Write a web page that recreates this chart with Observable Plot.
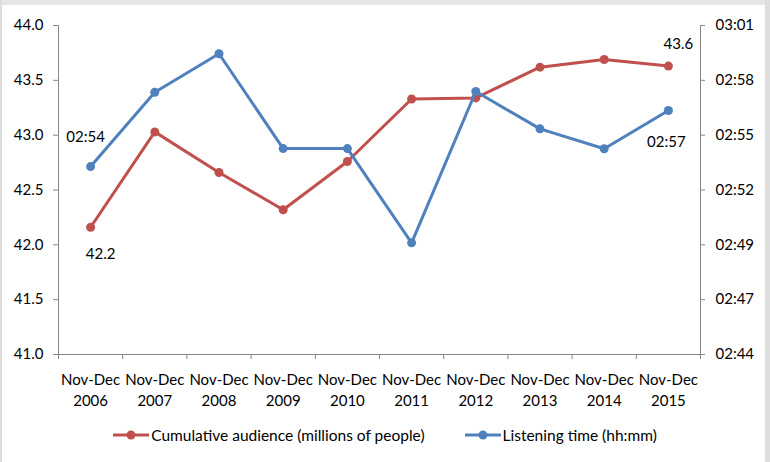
<!DOCTYPE html>
<html>
<head>
<meta charset="utf-8">
<script src="https://cdn.jsdelivr.net/npm/d3@7"></script>
<script src="https://cdn.jsdelivr.net/npm/@observablehq/plot@0.6"></script>
<style>
  html, body { margin: 0; padding: 0; background: #fff; }
  body { width: 770px; height: 462px; position: relative; overflow: hidden; font-family: Lato, "Liberation Sans", sans-serif; }
  #chart { position: absolute; left: 0; top: 0; }
  .frame { position: absolute; background: #dedede; }
  #legend { position: absolute; left: 0; top: 425px; width: 770px; height: 20px; display: flex; justify-content: center; align-items: center; font-size: 15.5px; color: #000; }
  #legend .item { display: flex; align-items: center; }
  #legend .item + .item { margin-left: 40px; }
  #legend svg { margin-right: 2px; }
</style>
</head>
<body>
<div id="chart"></div>
<div id="legend"></div>
<div class="frame" style="left:0;top:0;width:770px;height:5px;background:#e6e6e6"></div>
<div class="frame" style="left:0;top:0;width:2px;height:462px"></div>
<div class="frame" style="left:765px;top:0;width:5px;height:462px"></div>
<script>
const categories = ["2006","2007","2008","2009","2010","2011","2012","2013","2014","2015"];
const audience = [42.16, 43.03, 42.66, 42.32, 42.76, 43.33, 43.34, 43.62, 43.69, 43.63];
// listening time in minutes (2h54m = 174)
const listeningMinutes = [173.71, 177.55, 179.54, 174.64, 174.64, 169.77, 177.59, 175.66, 174.63, 176.61];
const leftTicks = [41, 41.5, 42, 42.5, 43, 43.5, 44];
const rightTickLabels = ["02:44","02:47","02:49","02:52","02:55","02:58","03:01"];
const rightMin = 164, rightMax = 181;
const seriesNames = ["Cumulative audience (millions of people)", "Listening time (hh:mm)"];
const colors = ["#C0504D", "#4F81BD"];

const toLeft = m => 41 + (m - rightMin) * 3 / (rightMax - rightMin);
const red = categories.map((c, i) => ({i: i + 0.5, v: audience[i], cat: c}));
const blue = categories.map((c, i) => ({i: i + 0.5, v: toLeft(listeningMinutes[i]), m: listeningMinutes[i], cat: c}));
const rightMap = new Map(leftTicks.map((v, k) => [v, rightTickLabels[k]]));
const fmtTime = m => { const t = Math.round(m); return "0" + Math.floor(t/60) + ":" + String(t % 60).padStart(2, "0"); };

const axisGray = "#868686";
const plot = Plot.plot({
  width: 770,
  height: 415,
  marginLeft: 58,
  marginRight: 70,
  marginTop: 25,
  marginBottom: 61,
  style: {fontFamily: "Lato, 'Liberation Sans', sans-serif", fontSize: "15px", color: "#000", background: "transparent"},
  x: {domain: [0, 10]},
  y: {domain: [41, 44]},
  marks: [
    Plot.axisY({ticks: leftTicks, tickFormat: d => d.toFixed(1), tickSize: 5, tickPadding: 10, stroke: axisGray, fill: "#000", label: null}),
    Plot.axisY({anchor: "right", ticks: leftTicks, tickFormat: d => rightMap.get(d), tickSize: 4, tickPadding: 11, stroke: axisGray, fill: "#000", label: null}),
    Plot.axisX({ticks: d3.range(11), tickFormat: () => "", tickSize: 5, stroke: axisGray, label: null}),
    Plot.ruleY([41], {stroke: axisGray}),
    Plot.ruleX([0, 10], {stroke: axisGray}),
    Plot.text(red, {x: "i", y: 41, text: d => "Nov-Dec\n" + d.cat, dy: 34, lineHeight: 1.4, fill: "#000"}),
    Plot.line(red, {x: "i", y: "v", stroke: colors[0], strokeWidth: 3}),
    Plot.dot(red, {x: "i", y: "v", r: 4.5, fill: colors[0]}),
    Plot.line(blue, {x: "i", y: "v", stroke: colors[1], strokeWidth: 3}),
    Plot.dot(blue, {x: "i", y: "v", r: 4.5, fill: colors[1]}),
    Plot.text([red[0]], {x: "i", y: "v", text: d => d.v.toFixed(1), dx: 10, dy: 27, fill: "#000"}),
    Plot.text([red[9]], {x: "i", y: "v", text: d => d.v.toFixed(1), dx: 10, dy: -22, fill: "#000"}),
    Plot.text([blue[0]], {x: "i", y: "v", text: d => fmtTime(d.m), dx: -5, dy: -29, fill: "#000"}),
    Plot.text([blue[9]], {x: "i", y: "v", text: d => fmtTime(d.m), dx: -2, dy: 32, fill: "#000"})
  ]
});
document.getElementById("chart").appendChild(plot);

const legend = document.getElementById("legend");
seriesNames.forEach((name, k) => {
  const item = document.createElement("div");
  item.className = "item";
  item.innerHTML = `<svg width="36" height="12"><line x1="0" y1="6" x2="36" y2="6" stroke="${colors[k]}" stroke-width="3"/><circle cx="18" cy="6" r="4.5" fill="${colors[k]}"/></svg><span>${name}</span>`;
  legend.appendChild(item);
});
</script>
</body>
</html>
